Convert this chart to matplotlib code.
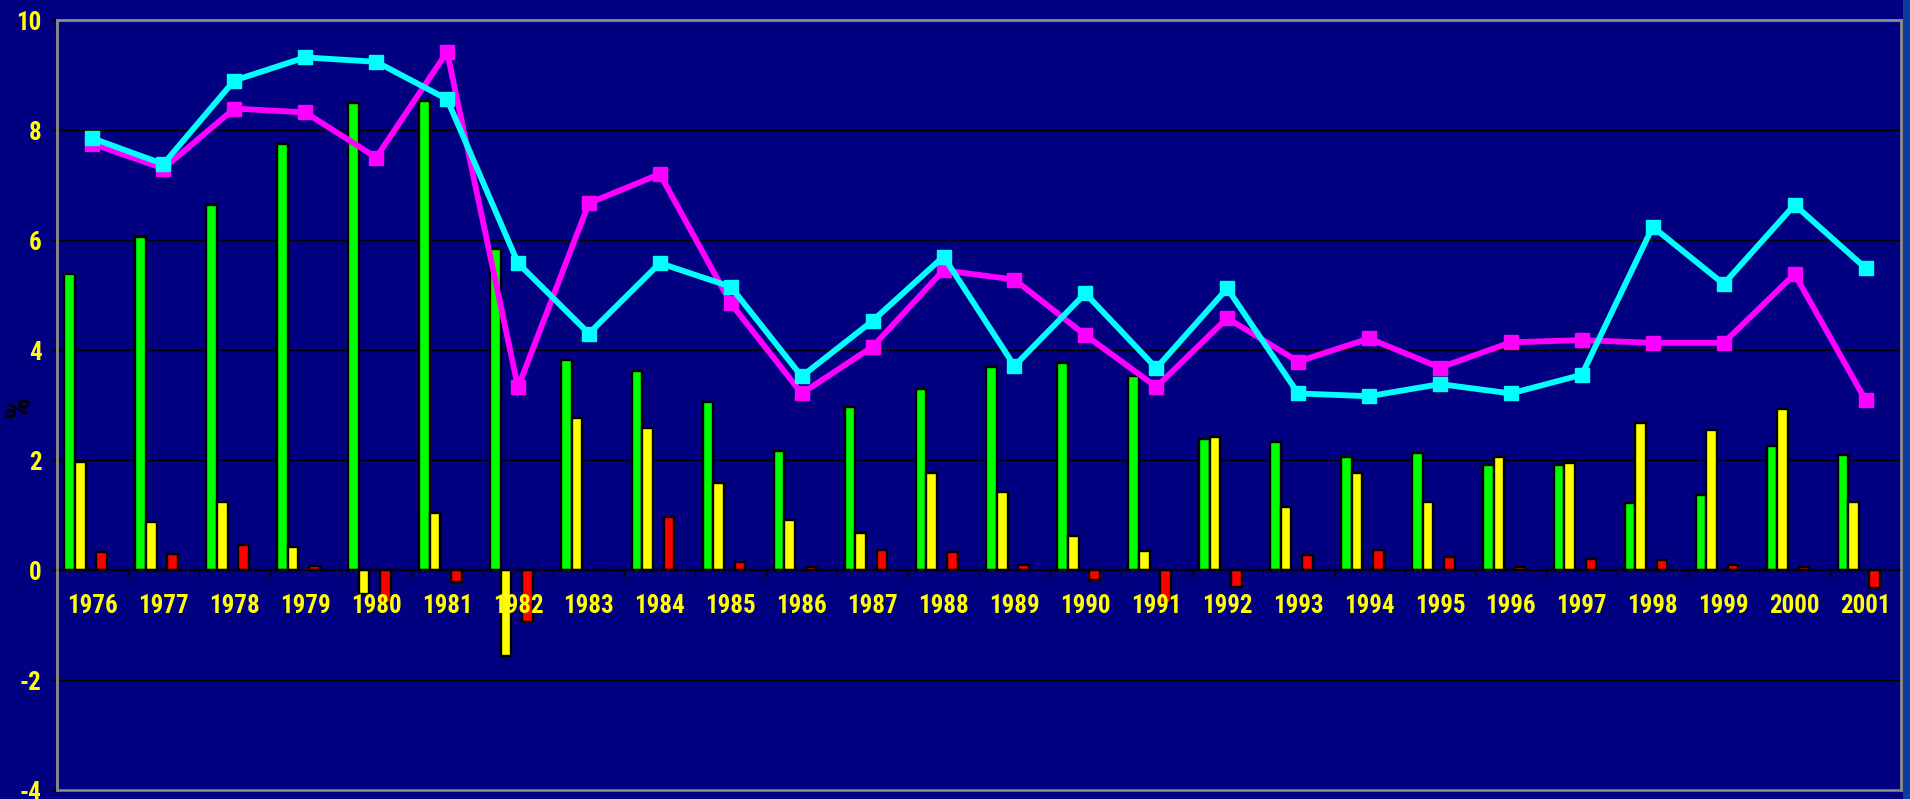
import numpy as np
import matplotlib
matplotlib.use("Agg")
import matplotlib.pyplot as plt
from matplotlib import font_manager
from matplotlib.patches import Rectangle

# ---- data -------------------------------------------------------------
years = [str(y) for y in range(1976, 2002)]

bars_green = [5.38, 6.05, 6.64, 7.74, 8.50, 8.53, 5.83, 3.81, 3.61, 3.06,
              2.17, 2.97, 3.30, 3.69, 3.77, 3.52, 2.38, 2.33, 2.05, 2.12,
              1.91, 1.91, 1.21, 1.36, 2.25, 2.09]
bars_yellow = [1.96, 0.87, 1.24, 0.41, -0.44, 1.03, -1.56, 2.77, 2.59, 1.58,
               0.91, 0.67, 1.76, 1.41, 0.61, 0.35, 2.42, 1.15, 1.76, 1.24,
               2.05, 1.95, 2.68, 2.55, 2.93, 1.24]
nan = float("nan")
bars_zero = [0, 0, 0, 0, 0, 0, nan, nan, nan, nan,
             nan, nan, nan, nan, nan, nan, nan, nan, 0, 0,
             0, 0, 0, 0, 0, nan]
bars_red = [0.33, 0.29, 0.45, 0.07, -0.60, -0.21, -0.94, 0.00, 0.96, 0.15,
            0.06, 0.36, 0.32, 0.10, -0.18, -0.60, -0.30, 0.27, 0.36, 0.23,
            0.06, 0.20, 0.19, 0.10, 0.06, -0.33]
line_cyan = [7.85, 7.38, 8.90, 9.32, 9.24, 8.56, 5.58, 4.30, 5.58, 5.15,
             3.52, 4.53, 5.70, 3.71, 5.03, 3.67, 5.12, 3.21, 3.16, 3.38,
             3.21, 3.55, 6.24, 5.20, 6.64, 5.49]
line_magenta = [7.75, 7.30, 8.39, 8.32, 7.50, 9.42, 3.32, 6.67, 7.20, 4.85,
                3.21, 4.06, 5.45, 5.28, 4.27, 3.33, 4.58, 3.79, 4.21, 3.68,
                4.14, 4.18, 4.13, 4.13, 5.38, 3.09]
y_ticks = [-4, -2, 0, 2, 4, 6, 8, 10]

# ---- fonts: prefer a narrow bold sans if one is installed ---------------
installed = {f.name for f in font_manager.fontManager.ttflist}
narrow = [n for n in ("Liberation Sans Narrow", "Arial Narrow",
                      "DejaVu Sans Condensed", "Roboto Condensed",
                      "Open Sans Condensed", "Noto Sans Condensed")
          if n in installed]
if narrow:
    FONT = [narrow[0], "DejaVu Sans"]
    LABEL_SIZE = 18
else:
    FONT = ["Liberation Sans", "DejaVu Sans"]
    LABEL_SIZE = 16.5

# ---- style ------------------------------------------------------------
NAVY = "#000080"
W, H = 1910, 799

fig = plt.figure(figsize=(W / 100, H / 100), dpi=100, facecolor=NAVY)
ax = fig.add_axes([57 / W, 1 - 790 / H, (1901 - 57) / W, 770 / H])
ax.set_facecolor(NAVY)

x = np.arange(len(years))
bw = 0.15
start = -0.32

# horizontal grid lines behind everything
for v in y_ticks:
    if v not in (0, -4, 10):
        ax.axhline(v, color="black", lw=1.0, zorder=0.5)

series = [(bars_green, "#00FF00"), (bars_yellow, "#FFFF00"),
          (bars_zero, NAVY), (bars_red, "#FF0000")]
for i, (vals, col) in enumerate(series):
    ax.bar(x + start + i * bw, vals, width=bw, color=col,
           edgecolor="black", linewidth=1.7, zorder=1)

ax.plot(x, line_magenta, color="#FF00FF", lw=4.2, marker="s", ms=10,
        zorder=3, solid_joinstyle="miter")
ax.plot(x, line_cyan, color="#00FFFF", lw=4.2, marker="s", ms=10,
        zorder=3.1, solid_joinstyle="miter")

ax.set_xlim(-0.5, len(years) - 0.5)
ax.set_ylim(-4, 10)

# category axis crossing at zero
ax.spines["bottom"].set_position(("data", 0))
ax.spines["bottom"].set_color("black")
ax.spines["bottom"].set_linewidth(1.6)
for s in ("left", "top", "right"):
    ax.spines[s].set_color("#8a8a8a")
    ax.spines[s].set_linewidth(1.8)
ax.add_patch(Rectangle((0, 0), 1, 1, transform=ax.transAxes, fill=False,
                       edgecolor="#8a8a8a", lw=1.8, clip_on=False, zorder=4))

ax.set_xticks(np.arange(-0.5, len(years), 1.0))
ax.set_xticklabels([])
ax.tick_params(axis="x", which="major", direction="out", length=5,
               width=1.0, color="black")
ax.set_xticks(x, minor=True)
ax.set_xticklabels(years, minor=True)
ax.tick_params(axis="x", which="minor", length=0, pad=17,
               labelcolor="#FFFF00", labelsize=LABEL_SIZE)
for t in ax.get_xticklabels(minor=True):
    t.set_fontfamily(FONT)
    t.set_fontweight("bold")

ax.set_yticks(y_ticks)
ax.set_yticklabels([str(v) for v in y_ticks])
ax.tick_params(axis="y", direction="out", length=4, width=1.0,
               color="black", pad=7, labelcolor="#FFFF00", labelsize=18)
for t in ax.get_yticklabels():
    t.set_fontfamily(FONT)
    t.set_fontweight("bold")

fig.text(20 / W, 1 - 407 / H, "%", rotation=90, color="black",
         fontsize=25, fontweight="bold", family=FONT,
         ha="center", va="center")

# lighter strip along the right edge
fig.patches.append(Rectangle((1903 / W, 0), 7 / W, 1, transform=fig.transFigure,
                             facecolor="#0D3C9C", edgecolor="none"))

fig.savefig("out.png", dpi=100, facecolor=NAVY)
